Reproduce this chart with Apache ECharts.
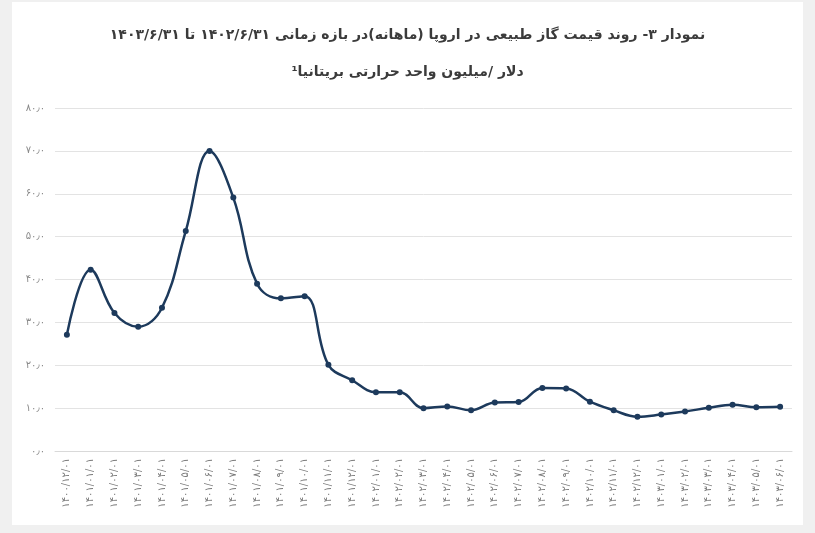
<!DOCTYPE html>
<html>
<head>
<meta charset="utf-8">
<script src="https://cdn.jsdelivr.net/npm/echarts@6/dist/echarts.min.js"></script>
<style>
  html, body { margin: 0; padding: 0; background: #f0f0f0; }
  #chart { width: 815px; height: 533px; }
</style>
</head>
<body>
<div id="chart"></div>
<script>
// ماه‌ها (محور افقی)
var categories = [
    '۱۴۰۰/۱۲/۰۱',
    '۱۴۰۱/۰۱/۰۱', '۱۴۰۱/۰۲/۰۱', '۱۴۰۱/۰۳/۰۱', '۱۴۰۱/۰۴/۰۱', '۱۴۰۱/۰۵/۰۱', '۱۴۰۱/۰۶/۰۱',
    '۱۴۰۱/۰۷/۰۱', '۱۴۰۱/۰۸/۰۱', '۱۴۰۱/۰۹/۰۱', '۱۴۰۱/۱۰/۰۱', '۱۴۰۱/۱۱/۰۱', '۱۴۰۱/۱۲/۰۱',
    '۱۴۰۲/۰۱/۰۱', '۱۴۰۲/۰۲/۰۱', '۱۴۰۲/۰۳/۰۱', '۱۴۰۲/۰۴/۰۱', '۱۴۰۲/۰۵/۰۱', '۱۴۰۲/۰۶/۰۱',
    '۱۴۰۲/۰۷/۰۱', '۱۴۰۲/۰۸/۰۱', '۱۴۰۲/۰۹/۰۱', '۱۴۰۲/۱۰/۰۱', '۱۴۰۲/۱۱/۰۱', '۱۴۰۲/۱۲/۰۱',
    '۱۴۰۳/۰۱/۰۱', '۱۴۰۳/۰۲/۰۱', '۱۴۰۳/۰۳/۰۱', '۱۴۰۳/۰۴/۰۱', '۱۴۰۳/۰۵/۰۱', '۱۴۰۳/۰۶/۰۱'
];

// قیمت گاز (دلار/میلیون واحد حرارتی بریتانیا)
var prices = [
    27.1, 42.3, 32.2, 29.0, 33.4, 51.3, 70.0, 59.1, 39.0, 35.6, 36.1,
    20.1, 16.5, 13.7, 13.7, 10.0, 10.4, 9.5, 11.3, 11.4, 14.7, 14.6,
    11.5, 9.5, 8.0, 8.5, 9.2, 10.1, 10.8, 10.2, 10.3
];

// برچسب‌های محور عمودی
var yTickLabels = ['۰٫۰', '۱۰٫۰', '۲۰٫۰', '۳۰٫۰', '۴۰٫۰', '۵۰٫۰', '۶۰٫۰', '۷۰٫۰', '۸۰٫۰'];

var titleLine1 = 'نمودار ۳- روند قیمت گاز طبیعی در اروپا (ماهانه)در بازه زمانی ۱۴۰۲/۶/۳۱ تا ۱۴۰۳/۶/۳۱';
var titleLine2 = 'دلار /میلیون واحد حرارتی بریتانیا¹';

var chart = echarts.init(document.getElementById('chart'));

var option = {
    backgroundColor: '#f0f0f0',
    textStyle: { fontFamily: 'DejaVu Sans' },
    // کارت سفید پشت نمودار
    graphic: [{
        type: 'rect',
        z: -10,
        silent: true,
        shape: { x: 12, y: 2, width: 791, height: 523 },
        style: { fill: '#ffffff' }
    }],
    title: {
        text: titleLine1 + '\n' + titleLine2,
        left: 'center',
        top: 12,
        textStyle: {
            color: '#3b3b3b',
            fontSize: 14,
            fontWeight: 'bold',
            lineHeight: 37,
            fontFamily: 'DejaVu Sans'
        }
    },
    grid: {
        left: 55,
        right: 23,
        top: 108,
        bottom: 82
    },
    xAxis: {
        type: 'category',
        data: categories,
        boundaryGap: true,
        axisLine: { lineStyle: { color: '#d9d9d9', width: 1 } },
        axisTick: { show: false },
        axisLabel: {
            rotate: 90,
            interval: 0,
            margin: 7,
            color: '#7a7a7a',
            fontSize: 10
        }
    },
    yAxis: {
        type: 'value',
        min: 0,
        max: 80,
        interval: 10,
        axisLine: { show: false },
        axisTick: { show: false },
        splitLine: { lineStyle: { color: '#e3e3e3', width: 1 } },
        axisLabel: {
            margin: 10,
            color: '#8a8a8a',
            fontSize: 10,
            formatter: function (v) { return yTickLabels[Math.round(v / 10)]; }
        }
    },
    series: [{
        type: 'line',
        data: prices,
        smooth: 0.4,
        symbol: 'circle',
        symbolSize: 6,
        itemStyle: { color: '#1d3a5c' },
        lineStyle: { color: '#1d3a5c', width: 2.5 }
    }]
};

chart.setOption(option);
</script>
</body>
</html>
